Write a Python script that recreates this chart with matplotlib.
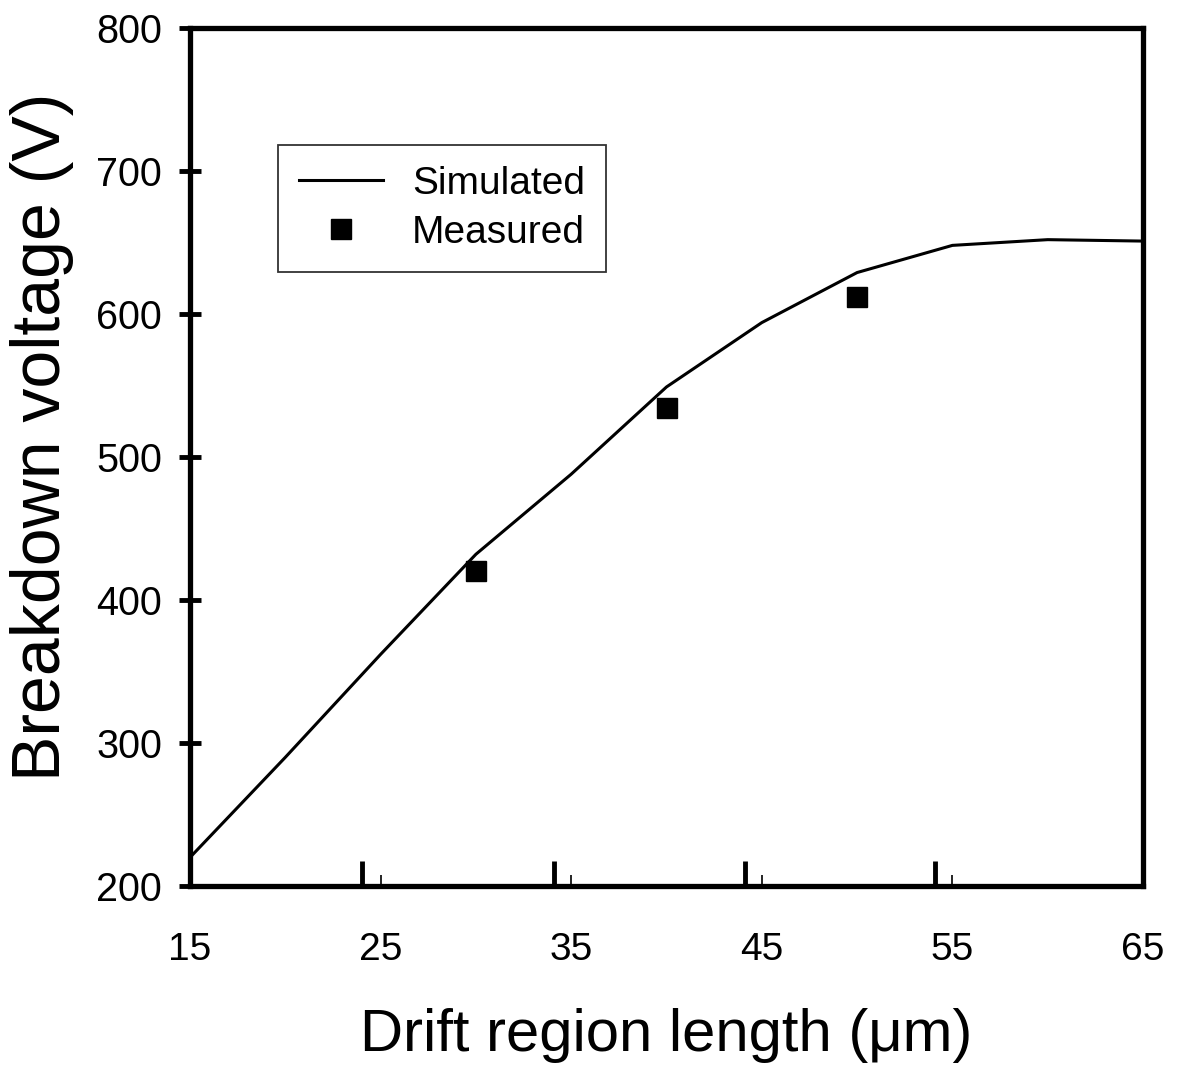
import numpy as np
import matplotlib
matplotlib.use('Agg')
import matplotlib.pyplot as plt
from matplotlib.ticker import FixedLocator

plt.rcParams['font.family'] = ['Liberation Sans', 'DejaVu Sans']

# simulated breakdown voltage vs drift length
sim_len = [15, 20, 25, 30, 35, 40, 45, 50, 55, 60, 65]
sim_bv = [220, 290, 362, 432, 488, 549, 594, 629, 648, 652, 651]

# measured devices
meas_len = [30, 40, 50]
meas_bv = [420, 534, 612]

xticks = [15, 25, 35, 45, 55, 65]
yticks = [200, 300, 400, 500, 600, 700, 800]
# the thick tick marks on the bottom axis sit a bit left of the labels
thick_ticks = [24, 34.1, 44.1, 54.1]

fig = plt.figure(figsize=(11.83, 10.77), dpi=100)
ax = fig.add_axes([0.1606, 0.1773, 0.8056, 0.7967])

ax.plot(sim_len, sim_bv, color='black', lw=2.2, label='Simulated')
ax.plot(meas_len, meas_bv, 's', color='black', ms=14, label='Measured')

ax.set_xlim(15, 65)
ax.set_ylim(200, 800)
for s in ax.spines.values():
    s.set_linewidth(3.8)

ax.set_xticks(xticks)
ax.xaxis.set_minor_locator(FixedLocator(thick_ticks))
ax.tick_params(axis='x', which='major', direction='in', length=8, width=1.2,
               pad=33, labelsize=28)
ax.tick_params(axis='x', which='minor', direction='in', length=18, width=3.5)
ax.set_yticks(yticks)
ax.tick_params(axis='y', which='major', direction='inout', length=16, width=3.5,
               pad=12, labelsize=28.5)
ax.tick_params(axis='y', which='minor', left=False)

ax.set_xlabel('Drift region length (μm)', fontsize=43, labelpad=29)
ax.set_ylabel('Breakdown voltage (V)', fontsize=49)
ax.yaxis.set_label_coords(-0.122, 0.523)

leg = ax.legend(loc='upper left', bbox_to_anchor=(0.092, 0.864), fontsize=28,
                frameon=True, fancybox=False, edgecolor='black',
                handlelength=2.15, handletextpad=0.75, borderpad=0.55,
                labelspacing=0.32, borderaxespad=0)
leg.get_frame().set_linewidth(1.3)

fig.savefig('out.png', dpi=100)
